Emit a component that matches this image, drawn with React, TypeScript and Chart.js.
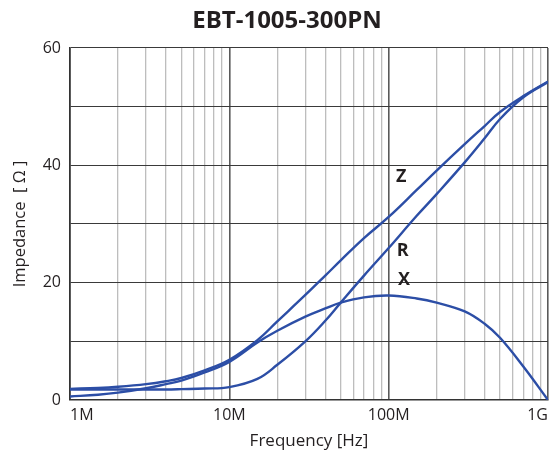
import React, { useEffect, useRef } from "react";
import { Chart, registerables } from "chart.js";

Chart.register(...registerables);

const chartTitle = "EBT-1005-300PN";
const xAxisTitle = "Frequency [Hz]";
const yAxisTitle = "Impedance  [ Ω ]";

const frequencies = [
  1e6, 1.5e6, 2e6, 3e6, 4e6, 5e6, 7e6, 1e7, 1.5e7, 2e7, 3e7, 4e7, 5e7, 7e7,
  1e8, 1.5e8, 2e8, 3e8, 4e8, 5e8, 7e8, 1e9,
];
const zValues = [
  1.9, 2.05, 2.25, 2.7, 3.2, 3.75, 5.05, 6.85, 10.2, 13.4, 17.9, 21.2, 23.8,
  27.6, 31.2, 35.8, 39.1, 43.6, 46.7, 49.1, 51.8, 54.3,
];
const rValues = [
  1.8, 1.8, 1.8, 1.8, 1.8, 1.85, 1.95, 2.2, 3.6, 6.0, 10.0, 13.5, 16.6, 21.2,
  25.9, 31.4, 35.1, 40.5, 44.6, 47.9, 51.6, 54.2,
];
const xValues = [
  0.6, 0.9, 1.25, 2.0, 2.7, 3.3, 4.7, 6.5, 9.8, 11.8, 14.2, 15.6, 16.6, 17.5,
  17.8, 17.3, 16.6, 15.1, 13.0, 10.6, 5.7, 0,
];

const decadeTicks = [1e6, 1e7, 1e8, 1e9];
const decadeLabels = ["1M", "10M", "100M", "1G"];
const minorMultipliers = [1, 2, 3, 4, 5, 6, 7, 8, 9];
const yTickLabels = [0, 20, 40, 60];

const curveLabels = [
  { text: "Z", freq: 1.2e8, value: 38.1 },
  { text: "R", freq: 1.225e8, value: 25.5 },
  { text: "X", freq: 1.25e8, value: 20.4 },
];

const LINE_COLOR = "#2c4ea6";
const TEXT_COLOR = "#231f20";
const FONT = "'Open Sans', 'Noto Sans', sans-serif";

export default function App() {
  const canvasRef = useRef<HTMLCanvasElement | null>(null);

  useEffect(() => {
    const canvas = canvasRef.current;
    if (!canvas) return;

    const mk = (vals: number[]) => frequencies.map((f, i) => ({ x: f, y: vals[i] }));

    const labelsPlugin = {
      id: "labelsPlugin",
      afterDatasetsDraw(chart: any) {
        const { ctx, scales, chartArea } = chart;
        ctx.save();
        ctx.fillStyle = TEXT_COLOR;
        ctx.textAlign = "center";
        ctx.textBaseline = "middle";
        ctx.font = `bold 18px ${FONT}`;
        curveLabels.forEach((l) => {
          ctx.fillText(l.text, scales.x.getPixelForValue(l.freq), scales.y.getPixelForValue(l.value));
        });
        ctx.font = `bold 24px ${FONT}`;
        ctx.textBaseline = "alphabetic";
        ctx.fillText(chartTitle, chartArea.left + (chartArea.right - chartArea.left) / 2 - 22, 28);
        ctx.restore();
      },
    };

    const tickValues: number[] = [];
    for (let d = 0; d < decadeTicks.length - 1; d++) {
      minorMultipliers.forEach((m) => tickValues.push(decadeTicks[d] * m));
    }
    tickValues.push(decadeTicks[decadeTicks.length - 1]);

    const isDecade = (v: number) => decadeTicks.some((d) => Math.abs(d - v) / d < 1e-6);

    const chart = new Chart(canvas, {
      type: "line",
      data: {
        datasets: [
          { label: "Z", data: mk(zValues) },
          { label: "R", data: mk(rValues) },
          { label: "X", data: mk(xValues) },
        ].map((d) => ({
          ...d,
          borderColor: LINE_COLOR,
          backgroundColor: LINE_COLOR,
          borderWidth: 2.4,
          pointRadius: 0,
          fill: false,
          tension: 0.4,
        })),
      },
      plugins: [labelsPlugin],
      options: {
        animation: false,
        responsive: false,
        maintainAspectRatio: false,
        layout: { padding: { top: 48, right: 10, bottom: 0, left: 0 } },
        plugins: {
          legend: { display: false },
          title: { display: false },
          tooltip: { enabled: false },
        },
        scales: {
          x: {
            type: "logarithmic",
            min: 1e6,
            max: 1e9,
            afterBuildTicks: (scale: any) => {
              scale.ticks = tickValues.map((v) => ({ value: v }));
            },
            afterFit: (scale: any) => {
              scale.height = 54;
            },
            ticks: {
              autoSkip: false,
              maxRotation: 0,
              align: "inner",
              padding: 6,
              color: TEXT_COLOR,
              font: { family: FONT, size: 16 },
              callback: (v: any) => {
                const i = decadeTicks.findIndex((d) => Math.abs(d - Number(v)) / d < 1e-6);
                return i >= 0 ? decadeLabels[i] : "";
              },
            },
            grid: {
              drawTicks: false,
              color: (c: any) => (isDecade(c.tick?.value) ? "#5a5a5a" : "#bdbdbd"),
              lineWidth: (c: any) => (isDecade(c.tick?.value) ? 1.6 : 1.3),
            },
            border: { color: "#333", width: 1.6 },
            title: {
              display: true,
              text: xAxisTitle,
              color: TEXT_COLOR,
              font: { family: FONT, size: 17 },
              padding: { top: 0, bottom: 3 },
            },
          },
          y: {
            type: "linear",
            min: 0,
            max: 60,
            afterFit: (scale: any) => {
              scale.width = 70;
            },
            ticks: {
              stepSize: 10,
              padding: 9,
              color: TEXT_COLOR,
              font: { family: FONT, size: 16 },
              callback: (v: any) => (yTickLabels.includes(Number(v)) ? String(v) : ""),
            },
            grid: {
              drawTicks: false,
              color: "#3a3a3a",
              lineWidth: 1.1,
            },
            border: { color: "#333", width: 1.6 },
            title: {
              display: true,
              text: yAxisTitle,
              color: TEXT_COLOR,
              font: { family: FONT, size: 16.5 },
              padding: { top: 10, bottom: 0 },
            },
          },
        },
      },
    });

    return () => chart.destroy();
  }, []);

  return (
    <div style={{ position: "absolute", left: 0, top: 0, width: 558, height: 454, background: "#fff" }}>
      <canvas ref={canvasRef} width={558} height={454} style={{ display: "block" }} />
    </div>
  );
}
